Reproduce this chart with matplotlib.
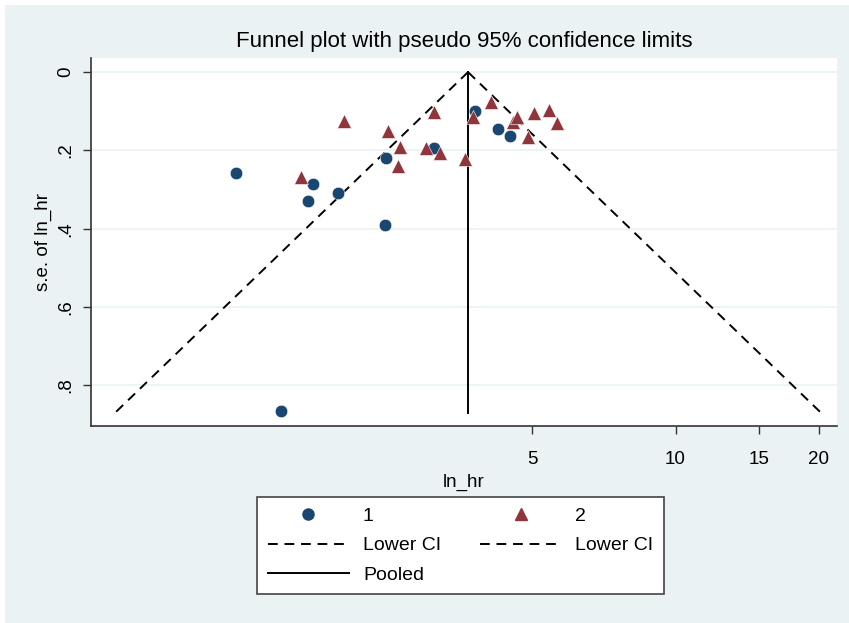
import numpy as np
import matplotlib.pyplot as plt
from matplotlib.lines import Line2D
from matplotlib.patches import Rectangle

plt.rcParams['font.family'] = ['Liberation Sans', 'DejaVu Sans']

# group 1 (circles): ln_hr and its standard error
ln_hr_1 = [0.178, 0.396, 0.551, 0.526, 0.671, 0.903, 0.899, 1.135, 1.334, 1.445, 1.503]
se_1 = [0.258, 0.866, 0.286, 0.330, 0.309, 0.220, 0.391, 0.194, 0.100, 0.146, 0.163]

# group 2 (triangles)
ln_hr_2 = [0.699, 0.491, 0.912, 0.971, 0.960, 1.097, 1.164, 1.137, 1.287, 1.322,
           1.411, 1.519, 1.538, 1.590, 1.617, 1.690, 1.730]
se_2 = [0.124, 0.269, 0.150, 0.191, 0.239, 0.195, 0.206, 0.101, 0.223, 0.114,
        0.077, 0.128, 0.114, 0.167, 0.104, 0.097, 0.131]

pooled = 1.300
se_max = 0.87

x_ticks = [5, 10, 15, 20]
y_ticks = [0, 0.2, 0.4, 0.6, 0.8]
y_labels = ['0', '.2', '.4', '.6', '.8']

bg = '#eaf2f3'
navy = '#1a476f'
maroon = '#90353b'

fig = plt.figure(figsize=(8.49, 6.23), dpi=100, facecolor='white')
fig.patches.append(Rectangle((5 / 849, 0), 1, 1 - 5 / 623, transform=fig.transFigure,
                             facecolor=bg, edgecolor='none', zorder=-10))

ax = fig.add_axes([91 / 849, 1 - 426 / 623, 746 / 849, 368 / 623])
ax.set_facecolor('white')

# funnel lines
se_line = np.array([0, se_max])
ax.plot(pooled - 1.96 * se_line, se_line, color='black', ls=(0, (5, 3.5)), lw=1.4)
ax.plot(pooled + 1.96 * se_line, se_line, color='black', ls=(0, (5, 3.5)), lw=1.4)
ax.plot([pooled, pooled], [0, se_max], color='black', lw=1.4)

ax.plot(ln_hr_1, se_1, 'o', color=navy, ms=9, mec='white', mew=0.4, ls='none')
ax.plot(ln_hr_2, se_2, '^', color=maroon, ms=10, mec='white', mew=0.4, ls='none')

ax.set_xlim(-0.522, 3.083)
ax.set_ylim(0.904, -0.036)

ax.set_xticks(np.log(x_ticks))
ax.set_xticklabels([str(t) for t in x_ticks], fontsize=13.5)
ax.set_yticks(y_ticks)
ax.set_yticklabels(y_labels, fontsize=13.5, rotation=90, va='center')
ax.tick_params(direction='out', length=6, width=1, color='#333333', pad=6)
ax.tick_params(axis='x', pad=12)

ax.grid(axis='y', color=bg, lw=1.2)
ax.set_axisbelow(True)
for s in ['top', 'right']:
    ax.spines[s].set_visible(False)
for s in ['left', 'bottom']:
    ax.spines[s].set_color('#333333')
    ax.spines[s].set_linewidth(1.2)

ax.set_xlabel('ln_hr', fontsize=13.5, labelpad=4)
ax.set_ylabel('s.e. of ln_hr', fontsize=13.5, labelpad=4)
ax.set_title('Funnel plot with pseudo 95% confidence limits', fontsize=16, pad=8)

h1 = Line2D([], [], marker='o', color=navy, ms=8, ls='none')
h2 = Line2D([], [], marker='^', color=maroon, ms=9, ls='none')
hl = Line2D([], [], color='black', ls=(0, (5, 3.5)), lw=1.4)
hp = Line2D([], [], color='black', lw=1.4)
leg = fig.legend([h1, hl, hp, h2, hl], ['1', 'Lower CI', 'Pooled', '2', 'Lower CI'],
                 ncol=2, loc='center', bbox_to_anchor=(460.5 / 849, 1 - 545.5 / 623),
                 fontsize=14, frameon=True, fancybox=False, framealpha=1,
                 handlelength=4.2, handletextpad=0.7, columnspacing=2.0,
                 labelspacing=0.6, borderpad=0.55, edgecolor='#444444')
leg.get_frame().set_linewidth(1.2)

fig.savefig('out.png', dpi=100, facecolor=fig.get_facecolor())
